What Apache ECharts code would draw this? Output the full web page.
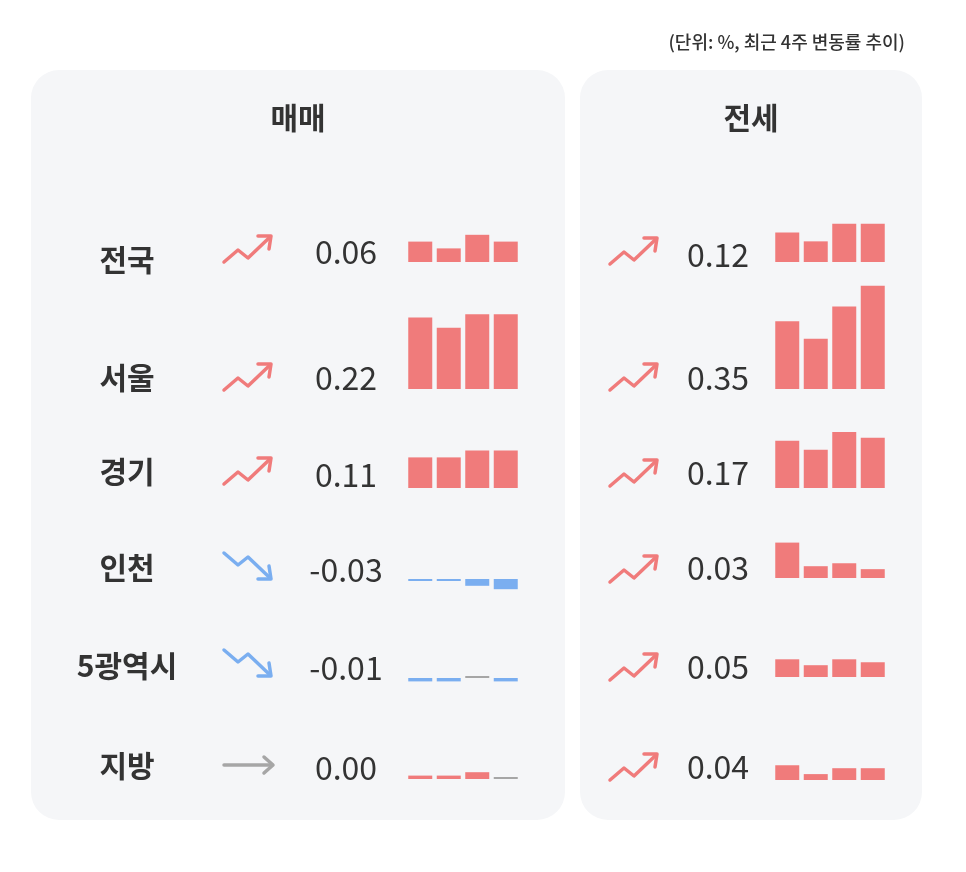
<!DOCTYPE html>
<html><head><meta charset="utf-8">
<script src="https://cdn.jsdelivr.net/npm/echarts@6/dist/echarts.min.js"></script>
<style>html,body{margin:0;background:#fff}#c{width:966px;height:872px}</style>
</head><body><div id="c"></div>
<script>
const regions = ['전국','서울','경기','인천','5광역시','지방'];
const saleLatest = ['0.06','0.22','0.11','-0.03','-0.01','0.00'];
const rentLatest = ['0.12','0.35','0.17','0.03','0.05','0.04'];
const saleWeeks = [
  [0.06,0.04,0.08,0.06],
  [0.21,0.18,0.22,0.22],
  [0.09,0.09,0.11,0.11],
  [-0.005,-0.005,-0.02,-0.03],
  [-0.01,-0.01,0,-0.01],
  [0.01,0.01,0.02,0]
];
const rentWeeks = [
  [0.10,0.07,0.13,0.13],
  [0.23,0.17,0.28,0.35],
  [0.16,0.13,0.19,0.17],
  [0.12,0.04,0.05,0.03],
  [0.06,0.04,0.06,0.05],
  [0.05,0.02,0.04,0.04]
];
const titleSale = '매매', titleRent = '전세', unitNote = '(단위: %, 최근 4주 변동률 추이)';

const RED='#f07b7b', BLUE='#7aaef0', GRAY='#a6a6a6', TXT='#333';
const FONT='"Noto Sans CJK KR","Noto Sans",sans-serif';
const chart = echarts.init(document.getElementById('c'));
const baseSale=[262,389,488,579,678,779], baseRent=[262,389,488,578,677,780];
const labelY=[260,378,472,568,666,766];
const saleValY=[252,378,475,570,668,768], rentValY=[255,378,473,568,667,767];
const rentIconY=[250,376,472,568,666,766], saleIconY=[248,376,470,565,662,765];

const grids=[],xAxes=[],yAxes=[],series=[];
function addSpark(vals,left,base,lo,hi,px){
  const i=grids.length;
  const h=(hi-lo)*px;
  grids.push({left:left,width:114,top:base-hi*px,height:h});
  xAxes.push({gridIndex:i,type:'category',data:['1','2','3','4'],show:false});
  yAxes.push({gridIndex:i,type:'value',min:lo,max:hi,show:false});
  series.push({type:'bar',xAxisIndex:i,yAxisIndex:i,barWidth:24,barMinHeight:2,
    data:vals.map(v=>({value:v,itemStyle:{color:v>0?RED:v<0?BLUE:GRAY}})),silent:true});
}
saleWeeks.forEach((v,r)=>addSpark(v,406,baseSale[r],-0.15,0.35,340));
rentWeeks.forEach((v,r)=>addSpark(v,773,baseRent[r],-0.1,0.4,295));

function icon(x,y,val){
  const v=parseFloat(val);
  if(v>0){
    return {type:'group',x:x,y:y,children:[
      {type:'polyline',shape:{points:[[0,14],[14,2],[24,10],[45,-10]]},style:{stroke:RED,lineWidth:3.5,fill:null,lineCap:'round',lineJoin:'round'}},
      {type:'polyline',shape:{points:[[34,-12],[47,-12],[45,1]]},style:{stroke:RED,lineWidth:3.5,fill:null,lineCap:'round',lineJoin:'round'}}]};
  } else if(v<0){
    return {type:'group',x:x,y:y,children:[
      {type:'polyline',shape:{points:[[0,-12],[14,0],[24,-8],[45,12]]},style:{stroke:BLUE,lineWidth:3.5,fill:null,lineCap:'round',lineJoin:'round'}},
      {type:'polyline',shape:{points:[[34,14],[47,14],[45,1]]},style:{stroke:BLUE,lineWidth:3.5,fill:null,lineCap:'round',lineJoin:'round'}}]};
  }
  return {type:'group',x:x,y:y,children:[
    {type:'line',shape:{x1:0,y1:0,x2:48,y2:0},style:{stroke:GRAY,lineWidth:3.5,lineCap:'round'}},
    {type:'polyline',shape:{points:[[40,-8],[49,0],[40,8]]},style:{stroke:GRAY,lineWidth:3.5,fill:null,lineCap:'round',lineJoin:'round'}}]};
}
const g=[
  {type:'rect',shape:{x:31,y:70,width:534,height:750,r:28},style:{fill:'#f5f6f8'},z:-10},
  {type:'rect',shape:{x:580,y:70,width:342,height:750,r:28},style:{fill:'#f5f6f8'},z:-10},
  {type:'text',x:298,y:118,style:{text:titleSale,font:'bold 30px '+FONT,fill:TXT,align:'center',verticalAlign:'middle'}},
  {type:'text',x:751,y:118,style:{text:titleRent,font:'bold 30px '+FONT,fill:TXT,align:'center',verticalAlign:'middle'}},
  {type:'text',x:905,y:42,style:{text:unitNote,font:'500 18px '+FONT,fill:TXT,align:'right',verticalAlign:'middle'}}
];
regions.forEach((r,i)=>{
  g.push({type:'text',x:127,y:labelY[i],style:{text:r,font:'bold 30px '+FONT,fill:TXT,align:'center',verticalAlign:'middle'}});
  g.push({type:'text',x:346,y:saleValY[i],style:{text:saleLatest[i],font:'32px '+FONT,fill:TXT,align:'center',verticalAlign:'middle'}});
  g.push({type:'text',x:718,y:rentValY[i],style:{text:rentLatest[i],font:'32px '+FONT,fill:TXT,align:'center',verticalAlign:'middle'}});
  g.push(icon(224,saleIconY[i],saleLatest[i]));
  g.push(icon(610,rentIconY[i],rentLatest[i]));
});
chart.setOption({animation:false,grid:grids,xAxis:xAxes,yAxis:yAxes,series:series,graphic:g});
</script></body></html>
